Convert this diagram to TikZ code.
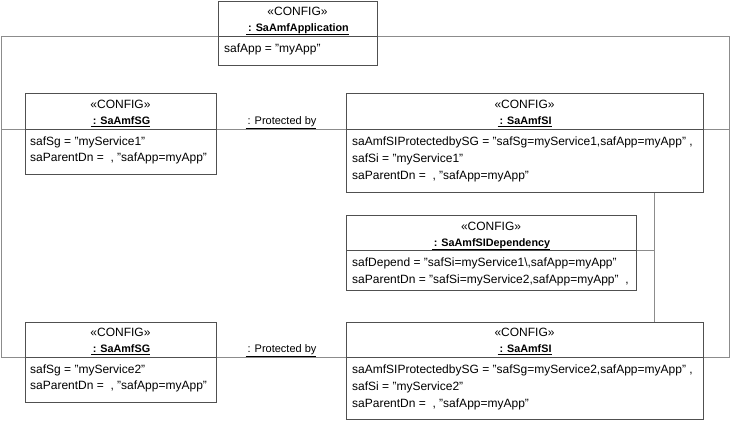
\documentclass[tikz,border=0pt]{standalone}
\usepackage{fontspec}
\setmainfont{Liberation Sans}
\usetikzlibrary{backgrounds}
\definecolor{linkgray}{HTML}{8C8C8C}
\definecolor{boxgray}{HTML}{505050}
\newcommand{\objname}[1]{\underline{\kern2bp #1}}
\begin{document}
\begin{tikzpicture}[x=1bp,y=-1bp,
  link/.style={draw=linkgray, line width=1bp},
  objbox/.style={draw=boxgray, fill=white, line width=1bp, rectangle, inner sep=0pt, anchor=north west},
  sepline/.style={draw=boxgray, line width=1bp},
  txt/.style={inner sep=0pt, anchor=base, font=\fontsize{12bp}{14bp}\selectfont},
  nm/.style={txt, font=\fontsize{10.8bp}{14bp}\selectfont\bfseries},
  lbl/.style={txt, font=\fontsize{11bp}{14bp}\selectfont},
  attr/.style={txt, anchor=base west}]
\useasboundingbox (0,0) rectangle (730,420);
% boxes
\node[objbox, minimum width=159bp, minimum height=64.5bp] (app) at (218,0.5) {};
\node[objbox, minimum width=191bp, minimum height=81bp] (sg1) at (25,93) {};
\node[objbox, minimum width=357bp, minimum height=99bp] (si1) at (346,93) {};
\node[objbox, minimum width=290bp, minimum height=75bp] (dep) at (346,215) {};
\node[objbox, minimum width=191bp, minimum height=80bp] (sg2) at (25,322) {};
\node[objbox, minimum width=357bp, minimum height=97bp] (si2) at (346,322) {};
% separators
\coordinate (appsep) at (0,36);
\coordinate (sep1) at (0,129);
\coordinate (depsep) at (0,250);
\coordinate (sep2) at (0,357);
\draw[sepline] (app.west |- appsep) -- (app.east |- appsep);
\draw[sepline] (sg1.west |- sep1) -- (sg1.east |- sep1);
\draw[sepline] (si1.west |- sep1) -- (si1.east |- sep1);
\draw[sepline] (dep.west |- depsep) -- (dep.east |- depsep);
\draw[sepline] (sg2.west |- sep2) -- (sg2.east |- sep2);
\draw[sepline] (si2.west |- sep2) -- (si2.east |- sep2);
% texts: application
\node[txt] (appst) at (297.5,15) {«CONFIG»};
\node[nm] (appnm) at (297.5,31) {\objname{: SaAmfApplication}};
\node[attr] (appa1) at (224,52) {safApp = "myApp"};
% SG1
\node[txt] (sg1st) at (120.5,108) {«CONFIG»};
\node[nm] (sg1nm) at (120.5,124.5) {\objname{: SaAmfSG}};
\node[attr] (sg1a1) at (30,145) {safSg = "myService1"};
\node[attr] (sg1a2) at (30,161.5) {saParentDn = \ , "safApp=myApp"};
% SI1
\node[txt] (si1st) at (524.5,108) {«CONFIG»};
\node[nm] (si1nm) at (524.5,124.5) {\objname{: SaAmfSI}};
\node[attr] (si1a1) at (352,145) {saAmfSIProtectedbySG = "safSg=myService1,safApp=myApp" ,};
\node[attr] (si1a2) at (352,162) {safSi = "myService1"};
\node[attr] (si1a3) at (352,179) {saParentDn = \ , "safApp=myApp"};
% Dependency
\node[txt] (depst) at (491,230) {«CONFIG»};
\node[nm] (depnm) at (491,246) {\objname{: SaAmfSIDependency}};
\node[attr] (depa1) at (352,266) {safDepend = "safSi=myService1\textbackslash,safApp=myApp"};
\node[attr] (depa2) at (352,283) {saParentDn = "safSi=myService2,safApp=myApp" \ ,};
% SG2
\node[txt] (sg2st) at (120.5,336) {«CONFIG»};
\node[nm] (sg2nm) at (120.5,352.5) {\objname{: SaAmfSG}};
\node[attr] (sg2a1) at (30,373) {safSg = "myService2"};
\node[attr] (sg2a2) at (30,389) {saParentDn = \ , "safApp=myApp"};
% SI2
\node[txt] (si2st) at (524.5,336) {«CONFIG»};
\node[nm] (si2nm) at (524.5,352.5) {\objname{: SaAmfSI}};
\node[attr] (si2a1) at (352,373) {saAmfSIProtectedbySG = "safSg=myService2,safApp=myApp" ,};
\node[attr] (si2a2) at (352,390) {safSi = "myService2"};
\node[attr] (si2a3) at (352,407) {saParentDn = \ , "safApp=myApp"};
% link labels
\node[lbl] (pb1) at (281,124.5) {\objname{: Protected by}};
\node[lbl] (pb2) at (281,352.5) {\objname{: Protected by}};
% links
\coordinate (tl) at (1,36);
\coordinate (tr) at (729,36);
\coordinate (ml) at (1,129);
\coordinate (mr) at (729,129);
\coordinate (bl) at (1,357);
\coordinate (br) at (729,357);
\coordinate (vx) at (654,0);
\begin{scope}[on background layer]
\draw[link] (app.west |- tl) -- (tl) -- (ml) -- (sg1.west |- ml);
\draw[link] (app.east |- tr) -- (tr) -- (mr) -- (si1.east |- mr);
\draw[link] (tl) -- (bl) -- (sg2.west |- bl);
\draw[link] (tr) -- (br) -- (si2.east |- br);
\draw[link] (sg1.east |- ml) -- (si1.west |- ml);
\draw[link] (sg2.east |- bl) -- (si2.west |- bl);
\draw[link] (si1.south -| vx) -- (si2.north -| vx);
\draw[link] (dep.east |- depsep) -- (depsep -| vx);
\end{scope}
\end{tikzpicture}
\end{document}
